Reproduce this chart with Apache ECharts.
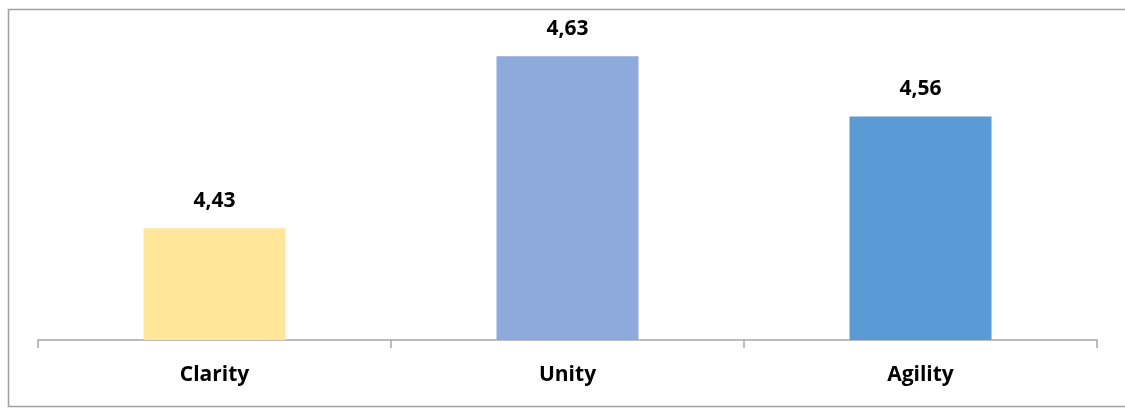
<!DOCTYPE html>
<html>
<head>
<meta charset="utf-8">
<script src="https://cdn.jsdelivr.net/npm/echarts@6/dist/echarts.min.js"></script>
<style>
  html, body { margin: 0; padding: 0; background: #ffffff; }
  #chart { width: 1125px; height: 408px; }
</style>
</head>
<body>
<div id="chart"></div>
<script>
// Scores per dimension
const categories = ['Clarity', 'Unity', 'Agility'];
const scores = [4.43, 4.63, 4.56];
const barColors = ['#FFE699', '#8EA9DB', '#5B9BD5'];

const chart = echarts.init(document.getElementById('chart'), null, { renderer: 'canvas' });

const fontFamily = '"Open Sans", "Noto Sans", sans-serif';

chart.setOption({
  animation: false,
  backgroundColor: '#ffffff',
  grid: { left: 38, right: 28, top: 39, bottom: 68 },
  graphic: [{
    type: 'rect',
    shape: { x: 8.5, y: 9.5, width: 1125, height: 397 },
    style: { fill: 'none', stroke: '#a0a0a0', lineWidth: 1.5 },
    silent: true
  }],
  xAxis: {
    type: 'category',
    data: categories,
    boundaryGap: true,
    axisLine: { lineStyle: { color: '#a6a6a6', width: 1.5 } },
    axisTick: { show: true, length: 8, lineStyle: { color: '#a6a6a6', width: 1.5 } },
    axisLabel: {
      margin: 25,
      color: '#000000',
      fontFamily: fontFamily,
      fontWeight: 'bold',
      fontSize: 21
    }
  },
  yAxis: {
    type: 'value',
    min: 4.3,
    max: 4.65,
    show: false,
    splitLine: { show: false }
  },
  series: [{
    type: 'bar',
    barWidth: 142,
    data: scores.map((v, i) => ({ value: v, itemStyle: { color: barColors[i] } })),
    label: {
      show: true,
      position: 'top',
      distance: 17,
      color: '#000000',
      fontFamily: fontFamily,
      fontWeight: 'bold',
      fontSize: 21,
      formatter: p => p.value.toFixed(2).replace('.', ',')
    }
  }]
});
</script>
</body>
</html>
